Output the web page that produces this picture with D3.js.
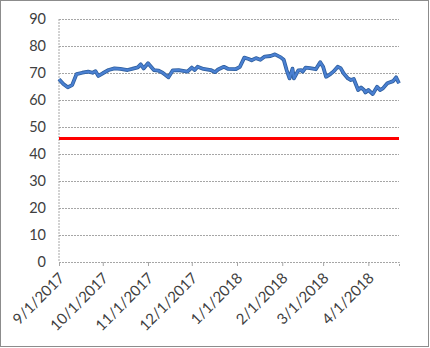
<!DOCTYPE html>
<html>
  <head>
    <script src="https://d3js.org/d3.v7.min.js"></script>
    <style>
      body { margin: 0; background: #fff; }
      text { font-family: Lato, "Open Sans", sans-serif; fill: #404040; }
    </style>
  </head>
  <body>
    <div id="chart"></div>
    <script>
      // Series
      const dates = [
        "2017-09-01","2017-09-04","2017-09-07","2017-09-10","2017-09-13","2017-09-17",
        "2017-09-21","2017-09-24","2017-09-26","2017-09-28","2017-10-01","2017-10-05",
        "2017-10-09","2017-10-13","2017-10-18","2017-10-21","2017-10-25","2017-10-27",
        "2017-10-29","2017-11-01","2017-11-05","2017-11-08","2017-11-11","2017-11-15",
        "2017-11-18","2017-11-22","2017-11-25","2017-11-28","2017-12-01","2017-12-03",
        "2017-12-05","2017-12-09","2017-12-14","2017-12-17","2017-12-19","2017-12-23",
        "2017-12-26","2017-12-31","2018-01-03","2018-01-06","2018-01-09","2018-01-11",
        "2018-01-14","2018-01-17","2018-01-20","2018-01-24","2018-01-27","2018-01-31",
        "2018-02-02","2018-02-04","2018-02-06","2018-02-08","2018-02-09","2018-02-12",
        "2018-02-14","2018-02-15","2018-02-17","2018-02-20","2018-02-24","2018-02-27",
        "2018-03-01","2018-03-03","2018-03-06","2018-03-08","2018-03-11","2018-03-13",
        "2018-03-15","2018-03-18","2018-03-20","2018-03-22","2018-03-25","2018-03-27",
        "2018-03-29","2018-03-30","2018-04-01","2018-04-04","2018-04-07","2018-04-09",
        "2018-04-11","2018-04-14","2018-04-18","2018-04-20","2018-04-22"
      ];
      const values = [
        67.7, 65.9, 64.7, 65.5, 69.6, 70.1,
        70.5, 70.1, 70.7, 68.9, 69.9, 71.1,
        71.7, 71.5, 71.1, 71.5, 72.1, 73.2,
        71.7, 73.6, 71.1, 70.9, 70.1, 68.4,
        71.0, 71.1, 70.8, 70.5, 72.0, 71.1,
        72.3, 71.5, 71.1, 70.3, 71.3, 72.3,
        71.5, 71.4, 72.3, 75.7, 75.2, 74.7,
        75.5, 74.9, 76.1, 76.3, 76.9, 75.8,
        74.9, 71.1, 68.0, 71.6, 68.0, 71.0,
        71.1, 70.5, 72.0, 71.8, 71.4, 74.0,
        72.3, 68.6, 69.6, 70.5, 72.3, 71.8,
        69.9, 68.0, 67.4, 67.8, 63.7, 64.6,
        63.7, 62.8, 63.7, 62.2, 64.9, 63.7,
        64.3, 66.2, 67.0, 68.4, 66.2
      ];
      const threshold = [45.7];
      const xDomain = ["2017-09-01", "2018-04-22"];
      const xTicks = ["2017-09-01","2017-10-01","2017-11-01","2017-12-01",
                      "2018-01-01","2018-02-01","2018-03-01","2018-04-01"];
      const yTicks = [0, 10, 20, 30, 40, 50, 60, 70, 80, 90];

      const W = 430, H = 348;
      const margin = { top: 19, right: 31, bottom: 86, left: 59 };
      const width = W - margin.left - margin.right,
        height = H - margin.top - margin.bottom;

      const parse = d3.timeParse("%Y-%m-%d");
      const fmt = d3.timeFormat("%-m/%-d/%Y");
      const data = dates.map((d, i) => ({ date: parse(d), value: values[i] }));

      const svgRoot = d3.select("#chart").append("svg")
        .attr("width", W).attr("height", H);

      // chart area border
      svgRoot.append("rect")
        .attr("x", 0.5).attr("y", 0.5)
        .attr("width", 428).attr("height", 346)
        .attr("fill", "#fff")
        .attr("stroke", "#8c8c8c");

      const svg = svgRoot.append("g")
        .attr("transform", `translate(${margin.left},${margin.top})`);

      const x = d3.scaleTime().domain(xDomain.map(parse)).range([0, width]);
      const y = d3.scaleLinear().domain([0, 90]).range([height, 0]);

      // Gridlines + y labels
      const yAxis = svg.append("g")
        .call(d3.axisLeft(y).tickValues(yTicks).tickSize(-width).tickFormat(d3.format("d")));
      yAxis.select(".domain").remove();
      yAxis.selectAll(".tick line")
        .attr("stroke", "#a6a6a6").attr("stroke-dasharray", "2,1");
      yAxis.selectAll(".tick text")
        .style("font-size", "14.5px").attr("fill", "#404040").attr("x", -13);

      // y axis line
      svg.append("line")
        .attr("x1", 0).attr("x2", 0).attr("y1", 0).attr("y2", height)
        .attr("stroke", "#a6a6a6").attr("stroke-dasharray", "2,1");

      // x axis
      const xAxis = svg.append("g")
        .attr("transform", `translate(0,${height})`)
        .call(d3.axisBottom(x).tickValues(xTicks.map(parse)).tickSize(4).tickFormat(fmt));
      xAxis.select(".domain")
        .attr("stroke", "#a6a6a6").attr("stroke-dasharray", "2,1");
      xAxis.selectAll(".tick line").attr("stroke", "#a6a6a6");
      xAxis.selectAll(".tick text")
        .style("font-size", "15px")
        .attr("fill", "#404040")
        .attr("text-anchor", "end")
        .attr("dy", null)
        .attr("y", 0)
        .attr("transform", "translate(6,17) rotate(-45)");

      // threshold line
      svg.append("g").selectAll("line")
        .data(threshold)
        .join("line")
        .attr("x1", 0).attr("x2", width)
        .attr("y1", (d) => y(d)).attr("y2", (d) => y(d))
        .attr("stroke", "#ff0000")
        .attr("stroke-width", 3);

      // value line
      const line = d3.line().x((d) => x(d.date)).y((d) => y(d.value));
      svg.append("path")
        .datum(data)
        .attr("fill", "none")
        .attr("stroke", "#2f5f9e")
        .attr("stroke-width", 3.8)
        .attr("stroke-linejoin", "round")
        .attr("d", line);
      svg.append("path")
        .datum(data)
        .attr("fill", "none")
        .attr("stroke", "#4a80d2")
        .attr("stroke-width", 2.2)
        .attr("stroke-linejoin", "round")
        .attr("d", line);
    </script>
  </body>
</html>
